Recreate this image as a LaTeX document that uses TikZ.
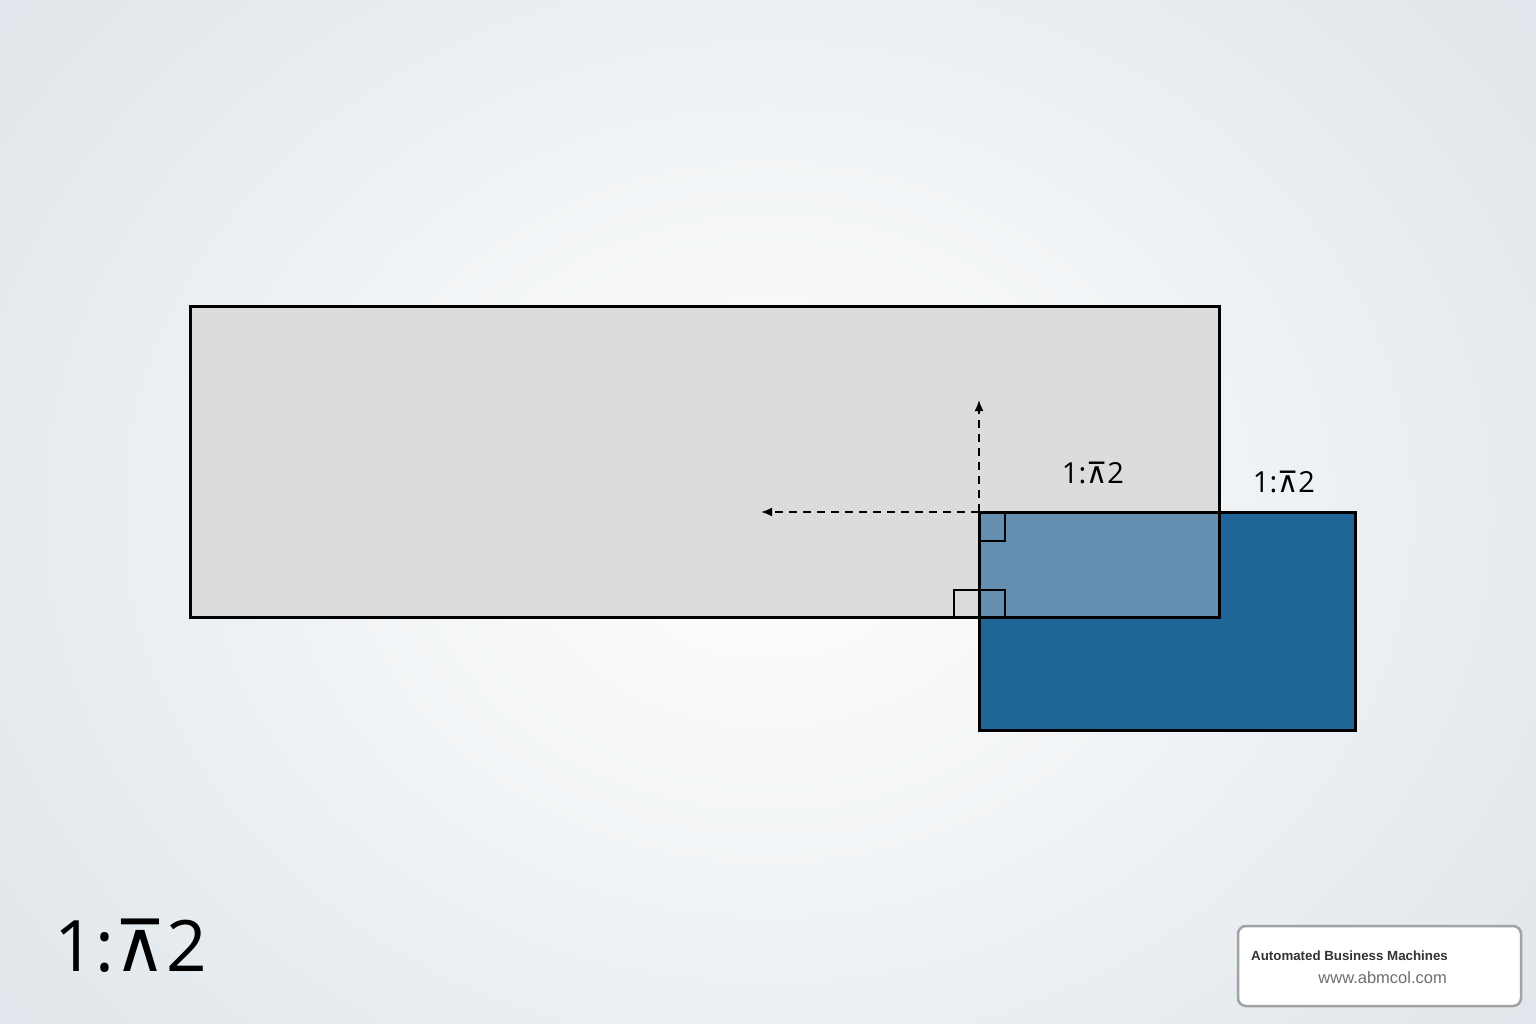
\documentclass[tikz,border=0pt]{standalone}
\usepackage{fontspec}
\setmainfont{Open Sans}
\newfontfamily\symfont{DejaVu Sans}
\newfontfamily\boxfont{Liberation Sans}
\usetikzlibrary{arrows.meta}

\definecolor{panelgray}{RGB}{220,220,220}
\definecolor{sheetblue}{RGB}{31,102,152}
\definecolor{overlapblue}{RGB}{100,143,176}
\definecolor{bgedge}{RGB}{214,222,228}
\definecolor{boxline}{RGB}{160,162,164}
\definecolor{boxtext}{RGB}{50,50,50}
\definecolor{urltext}{RGB}{110,110,110}

\newcommand{\ratiolabel}{1:{\symfont ⊼}2}

\tikzset{
  sheet/.style={line width=3pt, draw=black},
  guide/.style={line width=1.8pt, dash pattern=on 8pt off 6pt, -{Latex[length=11pt,width=9pt]}},
  tick/.style={line width=1.8pt, draw=black},
  ratio/.style={inner sep=0pt, font=\fontsize{29}{34}\selectfont},
}

\begin{document}
\begin{tikzpicture}[x=1pt,y=1pt,yscale=-1]
\useasboundingbox (0,0) rectangle (1536,1024);

% background
\begin{scope}
\clip (0,0) rectangle (1536,1024);
\shade[inner color=white, outer color=bgedge] (-520,-560) rectangle (2056,1584);
\end{scope}

% sheets
\fill[panelgray] (190,306) rectangle (1219,617);
\fill[sheetblue] (979,512) rectangle (1355,730);
\fill[overlapblue] (979,512) rectangle (1219,617);
\draw[sheet] (979,512) rectangle (1355,730);
\draw[sheet] (190,306) rectangle (1219,617);

% right-angle marks
\draw[tick] (979,512) rectangle (1005,541);
\draw[tick] (954,590) rectangle (1005,617);

% dashed guides
\coordinate (corner) at (979,512);
\coordinate (uptip) at (979,400);
\coordinate (lefttip) at (761,512);
\draw[guide] (corner) -- (uptip);
\draw[guide] (corner) -- (lefttip);

% Text Node
\node[ratio] (innerlabel) at (1093,473) {\ratiolabel};
% Text Node
\node[ratio] (outerlabel) at (1284,482) {\ratiolabel};
% Text Node
\node[inner sep=0pt, font=\fontsize{71}{76}\selectfont] (biglabel) at (131,946) {\ratiolabel};

% badge
\draw[boxline, line width=2.5pt, fill=white, rounded corners=8pt] (1238,926) rectangle (1521,1006);
\node[anchor=west, inner sep=0pt, text=boxtext, font=\boxfont\bfseries\fontsize{13.3}{15}\selectfont] (company) at (1251,956) {Automated Business Machines};
\node[anchor=east, inner sep=0pt, text=urltext, font=\boxfont\fontsize{16.5}{19}\selectfont] (website) at (1447,978) {www.abmcol.com};

\end{tikzpicture}
\end{document}
